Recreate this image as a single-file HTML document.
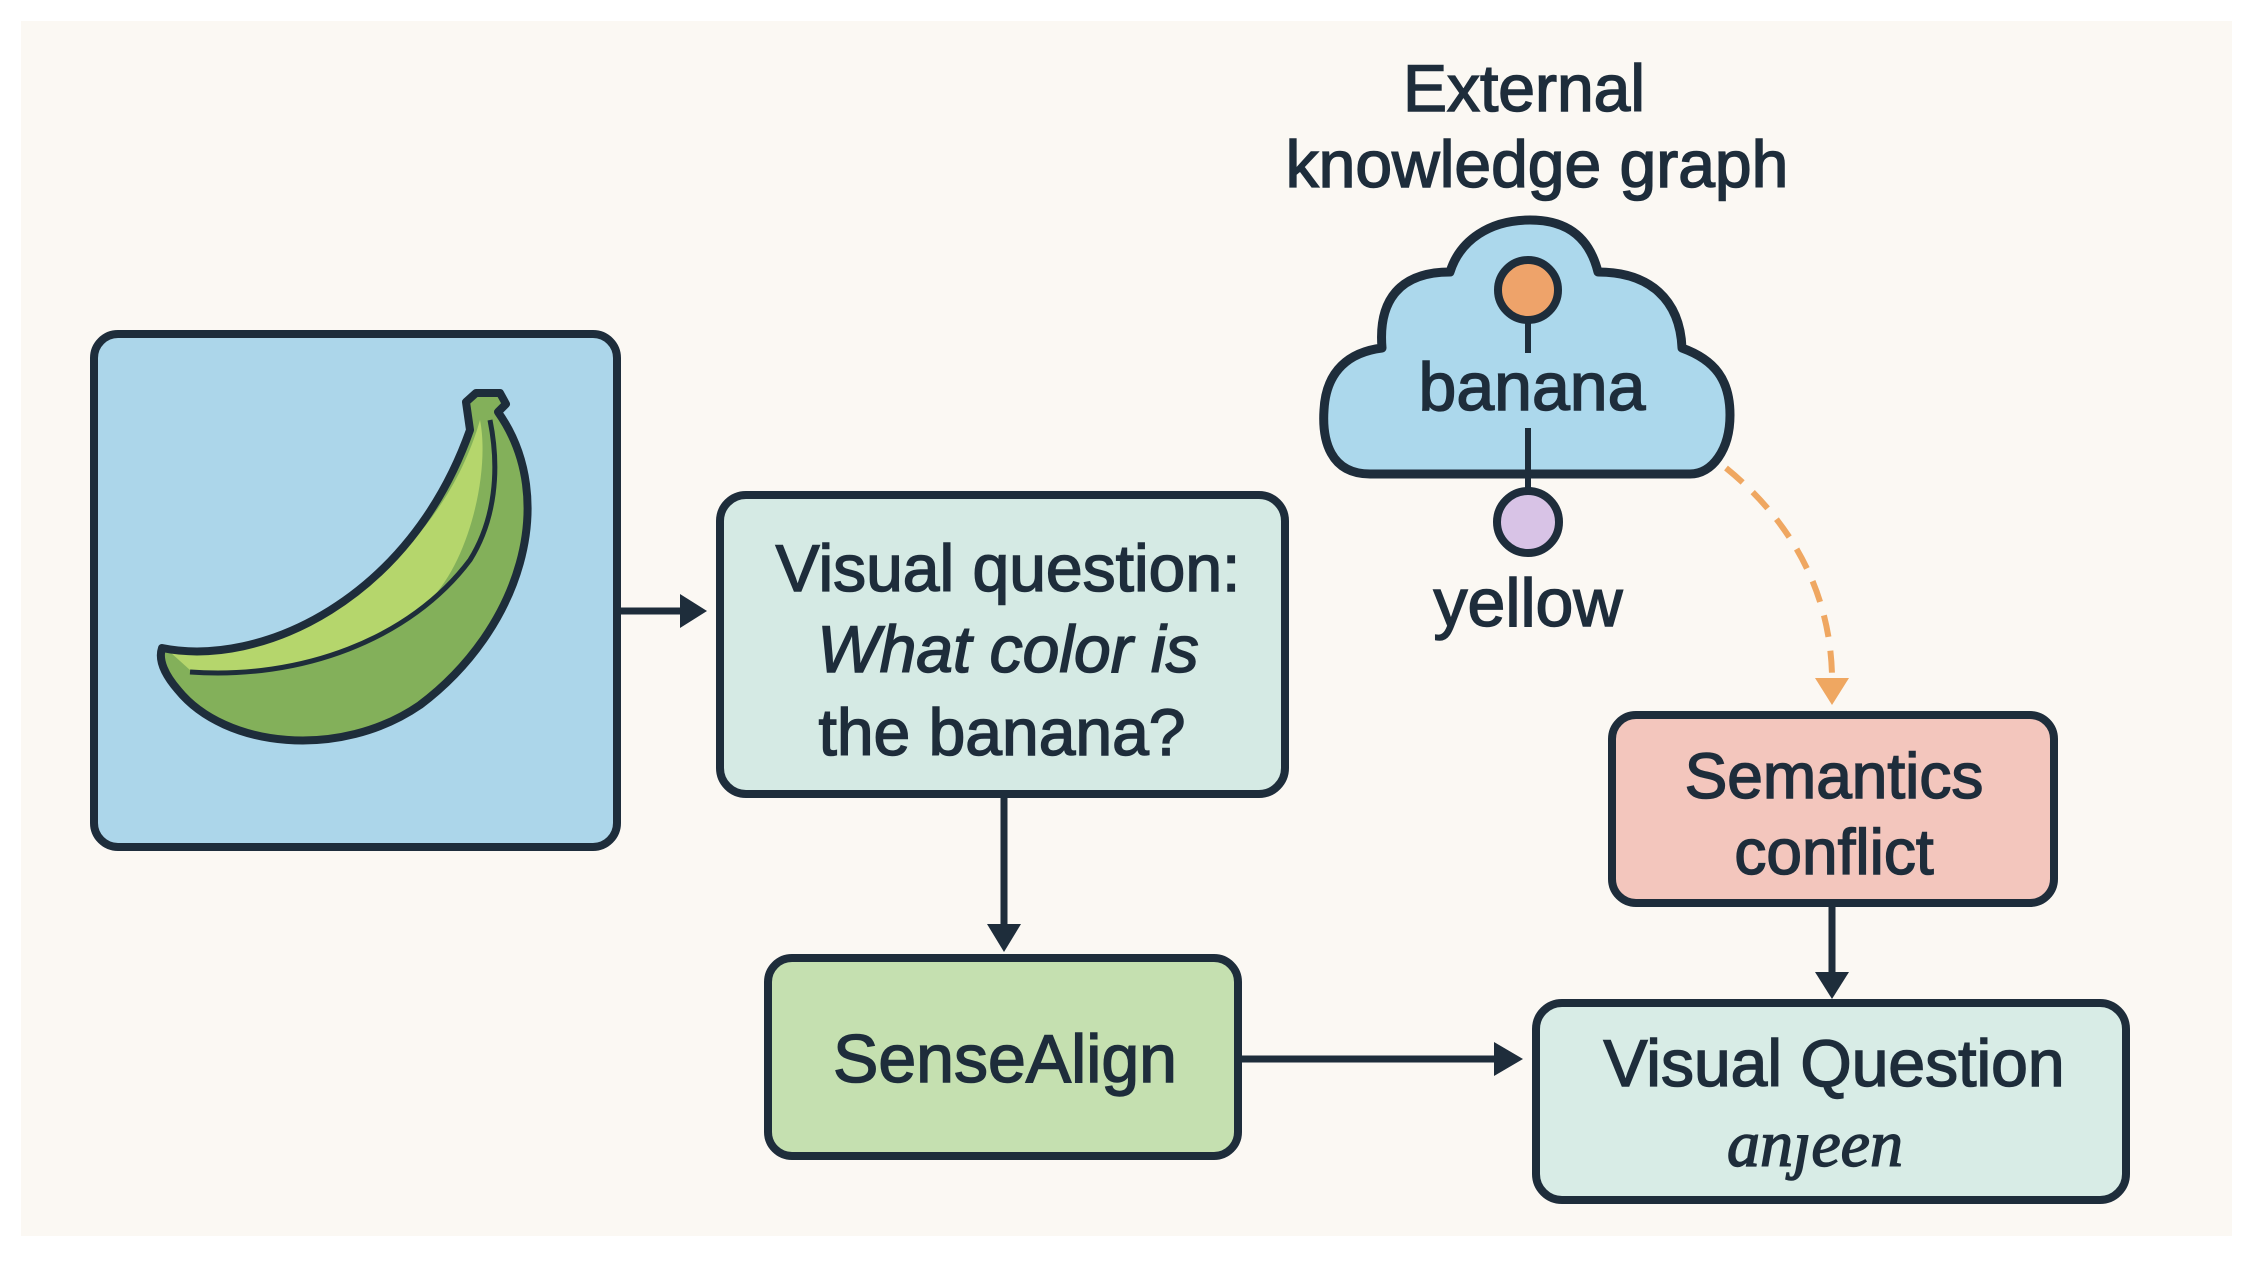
<!DOCTYPE html>
<html><head><meta charset="utf-8"><style>
html,body{margin:0;padding:0;background:#fff;}
body{width:2253px;height:1257px;overflow:hidden;}
</style></head><body>
<svg width="2253" height="1257" viewBox="0 0 2253 1257" xmlns="http://www.w3.org/2000/svg" font-family="'Liberation Sans', sans-serif" fill="#1e2d3b">
<rect x="21" y="21" width="2211" height="1215" fill="#fbf8f3"/>
<!-- banana box -->
<rect x="94" y="334" width="523" height="513" rx="24" fill="#acd6ea" stroke="#1e2d3b" stroke-width="8"/>
<path d="M162,648 C260,668 410,600 470,430 L466,402 L476,393 L500,393 L506,404 L498,412 C560,500 520,630 420,705 C340,760 225,748 178,690 C165,675 158,660 162,648 Z" fill="#83b05a" stroke="#1e2d3b" stroke-width="7" stroke-linejoin="round"/>
<path d="M170,652 C300,655 440,560 480,420 C490,470 470,560 430,600 C360,665 260,680 190,670 Z" fill="#b5d66c"/>
<path d="M190,672 C300,680 410,640 470,560 C495,520 500,470 490,420" fill="none" stroke="#1e2d3b" stroke-width="5"/>
<path d="M162,648 C260,668 410,600 470,430 L466,402 L476,393 L500,393 L506,404 L498,412 C560,500 520,630 420,705 C340,760 225,748 178,690 C165,675 158,660 162,648 Z" fill="none" stroke="#1e2d3b" stroke-width="8" stroke-linejoin="round"/>
<!-- arrows -->
<g stroke="#1e2d3b" stroke-width="7" fill="none">
<line x1="618" y1="611" x2="685" y2="611"/>
<line x1="1004" y1="795" x2="1004" y2="930"/>
<line x1="1239" y1="1059" x2="1500" y2="1059"/>
<line x1="1832" y1="904" x2="1832" y2="978"/>
</g>
<polygon points="707,611 680,594 680,628"/>
<polygon points="1004,952 987,924 1021,924"/>
<polygon points="1523,1059 1494,1042 1494,1076"/>
<polygon points="1832,999 1815,972 1849,972"/>
<!-- dashed -->
<path d="M1726,468 C1790,520 1830,590 1832,675" fill="none" stroke="#efa761" stroke-width="6" stroke-dasharray="22,14"/>
<polygon points="1832,705 1815,678 1849,678" fill="#efa761"/>
<g stroke="#1e2d3b" stroke-width="1.5">
<!-- boxes -->
<rect x="720" y="495" width="565" height="299" rx="26" fill="#d5eae4" stroke-width="8"/>
<text x="1008" y="591" font-size="66" text-anchor="middle">Visual question:</text>
<text x="1008" y="672" font-size="66" text-anchor="middle" font-style="italic">What color is</text>
<text x="1002" y="755" font-size="66" text-anchor="middle">the banana?</text>
<rect x="768" y="958" width="470" height="198" rx="24" fill="#c5e0b0" stroke-width="8"/>
<text x="1005" y="1082" font-size="68" text-anchor="middle">SenseAlign</text>
<rect x="1612" y="715" width="442" height="188" rx="24" fill="#f3c6bd" stroke-width="8"/>
<text x="1834" y="798" font-size="64" text-anchor="middle">Semantics</text>
<text x="1834" y="874" font-size="64" text-anchor="middle">conflict</text>
<rect x="1536" y="1003" width="590" height="197" rx="26" fill="#d8ece6" stroke-width="8"/>
<text x="1834" y="1086" font-size="66" text-anchor="middle">Visual Question</text>
<text x="1815" y="1166" font-size="66" text-anchor="middle" font-style="italic" font-family="'Liberation Serif', serif">anȷeen</text>
<!-- title -->
<text x="1524" y="111" font-size="66" text-anchor="middle">External</text>
<text x="1537" y="187" font-size="66" text-anchor="middle">knowledge graph</text>
</g>
<!-- cloud -->
<path d="M1370,474 C1330,474 1322,440 1324,410 C1326,370 1350,352 1382,348 C1378,300 1400,272 1450,272 C1460,240 1490,220 1530,220 C1570,220 1590,240 1598,272 C1650,272 1680,300 1682,348 C1715,360 1730,380 1730,415 C1730,450 1712,474 1690,474 Z" fill="#acd8ec" stroke="#1e2d3b" stroke-width="9" stroke-linejoin="round"/>
<line x1="1528" y1="310" x2="1528" y2="353" stroke="#1e2d3b" stroke-width="6"/>
<line x1="1528" y1="428" x2="1528" y2="495" stroke="#1e2d3b" stroke-width="6"/>
<circle cx="1528" cy="290" r="30" fill="#eea36a" stroke="#1e2d3b" stroke-width="8"/>
<circle cx="1528" cy="522" r="31" fill="#d8c3e6" stroke="#1e2d3b" stroke-width="8"/>
<g stroke="#1e2d3b" stroke-width="1.5">
<text x="1532" y="410" font-size="68" text-anchor="middle">banana</text>
<text x="1528" y="626" font-size="68" text-anchor="middle">yellow</text>
</g>
</svg>
</body></html>
